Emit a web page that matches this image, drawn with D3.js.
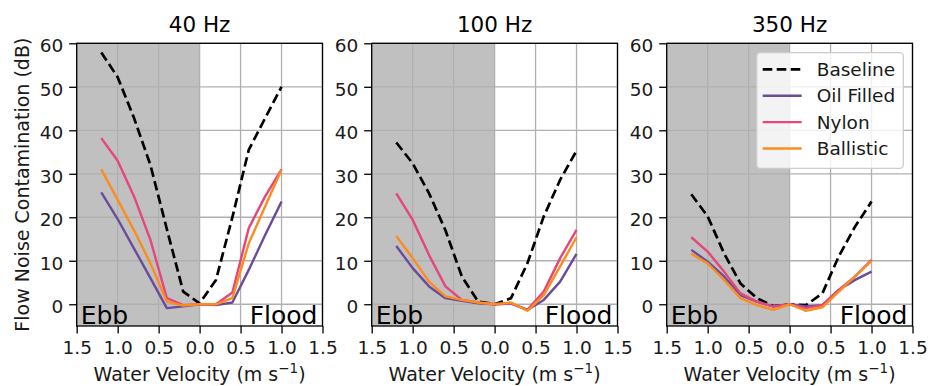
<!DOCTYPE html>
<html>
<head>
<meta charset="utf-8">
<script src="https://cdn.jsdelivr.net/npm/d3@7"></script>
<style>
  html, body { margin: 0; padding: 0; background: #fff; }
  svg { display: block; font-family: "DejaVu Sans", sans-serif; }
</style>
</head>
<body>
<svg id="chart" width="930" height="386"></svg>
<script>
// ---------- data ----------
const panels = ["40 Hz", "100 Hz", "350 Hz"];
const velocity = [-1.2, -1.0, -0.8, -0.6, -0.4, -0.2, 0, 0.2, 0.4, 0.6, 0.8, 1.0];
const seriesNames = ["Baseline", "Oil Filled", "Nylon", "Ballistic"];

const baseline40  = [57.9, 52.2, 42.8, 32.0, 17.3, 2.9, 0.2, 5.6, 20.0, 35.5, 42.8, 50.0];
const oil40       = [25.7, 19.6, 12.8, 6.0, -0.9, -0.5, 0, -0.2, 0.4, 7.9, 15.9, 23.6];
const nylon40     = [38.2, 33.0, 24.8, 14.8, 1.4, -0.2, 0, 0, 2.7, 17.5, 24.8, 31.0];
const ballistic40 = [31.0, 24.0, 17.0, 9.4, 0.6, -0.3, 0, 0, 1.4, 14.0, 22.5, 30.9];

const baseline100  = [37.2, 32.4, 25.5, 17.0, 6.4, 0.6, 0, 1.4, 9.4, 20.2, 28.6, 35.3];
const oil100       = [13.4, 8.3, 4.1, 1.4, 0.8, 0.2, 0, 0.2, -1.3, 1.0, 5.2, 11.6];
const nylon100     = [25.5, 19.4, 11.3, 4.1, 1.0, 0.4, 0, 0.2, -1.3, 2.9, 10.6, 17.1];
const ballistic100 = [15.7, 10.6, 5.2, 1.8, 1.0, 0.4, 0, 0.4, -1.5, 2.1, 8.7, 15.4];

const baseline350  = [25.3, 20.2, 11.7, 4.8, 1.4, -0.4, 0, -0.2, 2.5, 11.0, 17.9, 23.6];
const oil350       = [12.5, 9.8, 6.4, 2.1, 0.6, -0.5, 0, -0.5, -0.2, 3.3, 5.6, 7.5];
const nylon350     = [15.4, 12.1, 7.5, 2.5, 0.6, -0.5, 0, -0.9, -0.2, 3.3, 6.4, 10.2];
const ballistic350 = [11.6, 9.4, 5.6, 1.4, -0.2, -1.3, 0, -1.5, -0.7, 2.9, 6.4, 10.0];

const xTicks = [-1.5, -1.0, -0.5, 0.0, 0.5, 1.0, 1.5];
const yTicks = [0, 10, 20, 30, 40, 50, 60];
const xDomain = [-1.5, 1.5];
const yDomain = [-5, 60];

const panelData = [
  [baseline40, oil40, nylon40, ballistic40],
  [baseline100, oil100, nylon100, ballistic100],
  [baseline350, oil350, nylon350, ballistic350]
];

// ---------- styles ----------
const colors = { "Baseline": "#000000", "Oil Filled": "#6a4c9c", "Nylon": "#e5467b", "Ballistic": "#fd8c1e" };
const dashes = { "Baseline": "9.6,4.4", "Oil Filled": null, "Nylon": null, "Ballistic": null };
const widths = { "Baseline": 2.7, "Oil Filled": 2.4, "Nylon": 2.4, "Ballistic": 2.4 };

const svg = d3.select("#chart");
const plotTop = 43.3, plotBottom = 326, plotW = 245.8;
const panelLeft = [76.7, 371.7, 666.7];
const tickFont = 18.5, labelFont = 19;

const y = d3.scaleLinear().domain(yDomain).range([plotBottom, plotTop]);

panels.forEach((title, pi) => {
  const x0 = panelLeft[pi];
  const x = d3.scaleLinear().domain(xDomain).range([x0, x0 + plotW]);
  const g = svg.append("g");

  // shaded ebb region
  g.append("rect")
    .attr("x", x(-1.5)).attr("y", y(60))
    .attr("width", x(0) - x(-1.5)).attr("height", y(-5) - y(60))
    .attr("fill", "#c0c0c0");

  // grid
  g.selectAll(".vg").data(xTicks).enter().append("line")
    .attr("x1", d => x(d)).attr("x2", d => x(d))
    .attr("y1", plotTop).attr("y2", plotBottom)
    .attr("stroke", "#b0b0b0").attr("stroke-width", 1.3);
  g.selectAll(".hg").data(yTicks).enter().append("line")
    .attr("x1", x0).attr("x2", x0 + plotW)
    .attr("y1", d => y(d)).attr("y2", d => y(d))
    .attr("stroke", "#b0b0b0").attr("stroke-width", 1.3);

  // lines
  const line = d3.line().x((d, i) => x(velocity[i])).y(d => y(d));
  panelData[pi].forEach((vals, si) => {
    const name = seriesNames[si];
    g.append("path")
      .attr("d", line(vals))
      .attr("fill", "none")
      .attr("stroke", colors[name])
      .attr("stroke-width", widths[name])
      .attr("stroke-dasharray", dashes[name])
      .attr("stroke-linejoin", "round");
  });

  // Ebb / Flood labels
  g.append("text").attr("x", x0 + 4).attr("y", 323.5)
    .attr("font-size", 25).attr("fill", "#000").text("Ebb");
  g.append("text").attr("x", x0 + plotW - 5).attr("y", 323.5)
    .attr("font-size", 25).attr("text-anchor", "end").attr("fill", "#000").text("Flood");

  // frame
  g.append("rect").attr("x", x0).attr("y", plotTop)
    .attr("width", plotW).attr("height", plotBottom - plotTop)
    .attr("fill", "none").attr("stroke", "#000").attr("stroke-width", 1.3);

  // axes
  const xAxis = d3.axisBottom(x).tickValues(xTicks).tickSize(7.5).tickPadding(6)
    .tickFormat(d => Math.abs(d).toFixed(1));
  const gx = g.append("g").attr("transform", `translate(0,${plotBottom})`).call(xAxis);
  const yAxis = d3.axisLeft(y).tickValues(yTicks).tickSize(7.5).tickPadding(6);
  const gy = g.append("g").attr("transform", `translate(${x0},0)`).call(yAxis);
  [gx, gy].forEach(a => {
    a.select(".domain").remove();
    a.selectAll(".tick line").attr("stroke", "#000").attr("stroke-width", 1.3);
    a.selectAll(".tick text").attr("font-size", tickFont).attr("fill", "#1a1a1a")
      .attr("font-family", "DejaVu Sans");
  });
  gx.selectAll(".tick text").attr("dy", "0.8em");
  gy.selectAll(".tick text").attr("dy", "0.45em");

  // title
  g.append("text").attr("x", x0 + plotW / 2).attr("y", 32.3)
    .attr("text-anchor", "middle").attr("font-size", 21.5).attr("fill", "#000").text(title);

  // x label
  const xl = g.append("text").attr("x", x0 + plotW / 2).attr("y", 380.5)
    .attr("text-anchor", "middle").attr("font-size", labelFont).attr("fill", "#1a1a1a");
  xl.append("tspan").text("Water Velocity (m s");
  xl.append("tspan").attr("dy", -7.5).attr("font-size", 13.5).text("\u22121");
  xl.append("tspan").attr("dy", 7.5).text(")");
});

// y label
svg.append("text")
  .attr("transform", `translate(28.5,${(plotTop + plotBottom) / 2}) rotate(-90)`)
  .attr("text-anchor", "middle").attr("font-size", labelFont).attr("fill", "#1a1a1a")
  .text("Flow Noise Contamination (dB)");

// legend
const lg = svg.append("g");
lg.append("rect").attr("x", 756.7).attr("y", 52.7).attr("width", 146.6).attr("height", 115.6)
  .attr("rx", 3.5).attr("fill", "#ffffff").attr("fill-opacity", 0.8)
  .attr("stroke", "#cccccc").attr("stroke-width", 1.3);
const legendRowY = d3.scalePoint().domain(seriesNames).range([69.3, 148.5]);
seriesNames.forEach(name => {
  const yy = legendRowY(name);
  lg.append("line").attr("x1", 762.7).attr("x2", 801.7).attr("y1", yy).attr("y2", yy)
    .attr("stroke", colors[name]).attr("stroke-width", widths[name])
    .attr("stroke-dasharray", dashes[name]);
  lg.append("text").attr("x", 816.7).attr("y", yy).attr("dy", "0.36em")
    .attr("font-size", tickFont).attr("fill", "#1a1a1a").text(name);
});
</script>
</body>
</html>
